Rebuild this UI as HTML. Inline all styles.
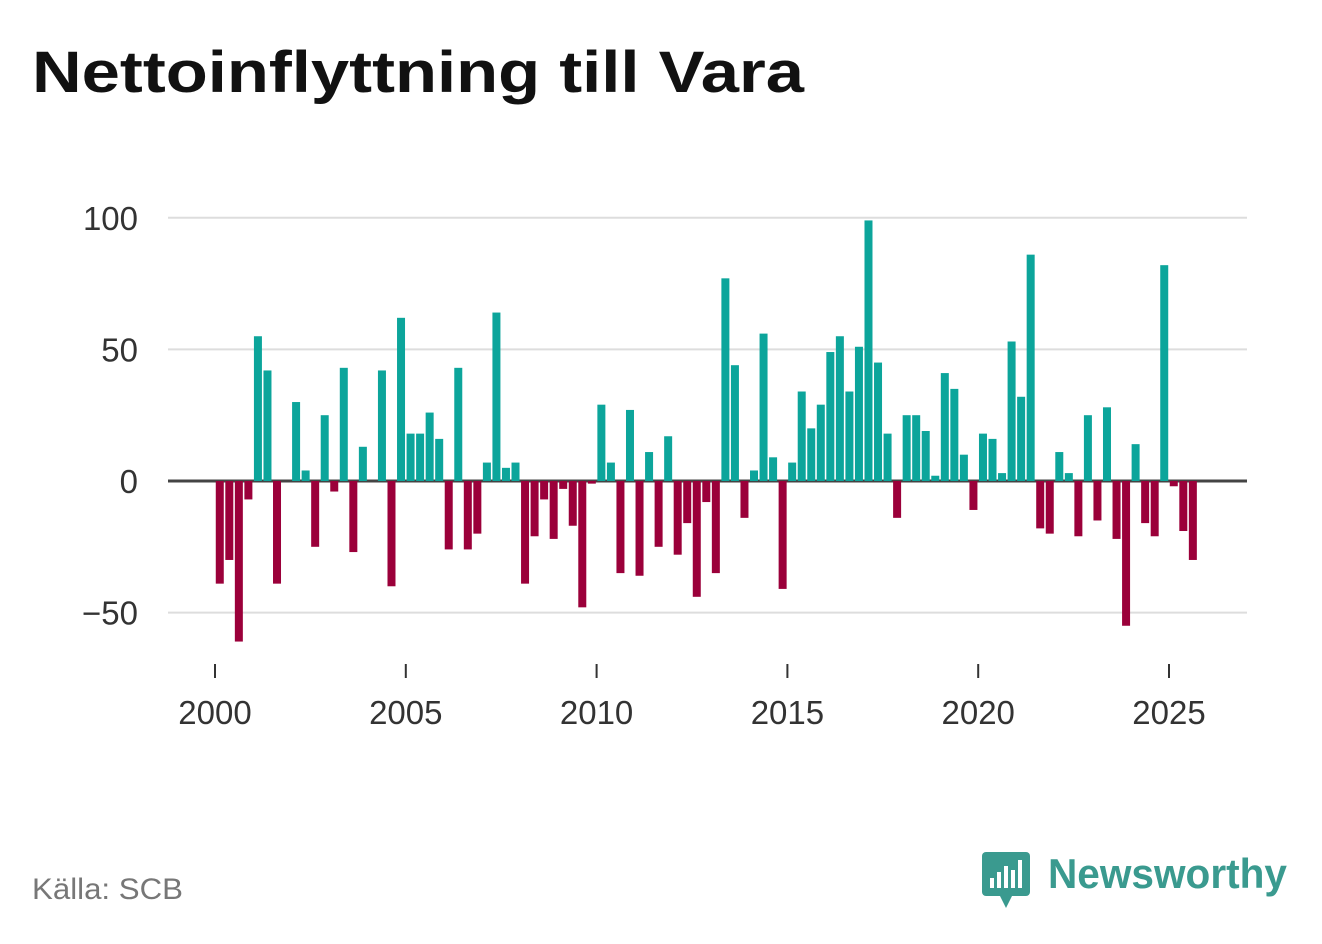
<!DOCTYPE html>
<html><head><meta charset="utf-8"><style>
body{margin:0;background:#fff;width:1322px;height:939px;overflow:hidden;font-family:"Liberation Sans",sans-serif}
</style></head><body>
<svg id="chart" width="1322" height="939">
<text x="32" y="92" font-size="58" font-weight="bold" fill="#111" textLength="772" lengthAdjust="spacingAndGlyphs">Nettoinflyttning till Vara</text>
<g id="grid"></g><g id="bars"></g><g id="xaxis"></g>
<text x="32" y="899" font-size="30" fill="#777" textLength="151" lengthAdjust="spacingAndGlyphs">Källa: SCB</text>
<g>
<rect x="982" y="852" width="48" height="44" rx="4" fill="#3a9a8f"/>
<polygon points="1000,896 1012,896 1006,908" fill="#3a9a8f"/>
<rect x="990" y="878" width="4" height="10" fill="#fff"/><rect x="997" y="872" width="4" height="16" fill="#fff"/><rect x="1004" y="866" width="4" height="22" fill="#fff"/><rect x="1011" y="870" width="4" height="18" fill="#fff"/><rect x="1018" y="860" width="4" height="28" fill="#fff"/>
<text x="1048" y="888" font-size="42" font-weight="bold" fill="#3a9a8f" textLength="239" lengthAdjust="spacingAndGlyphs">Newsworthy</text>
</g>
</svg>
<script>
const startYear=2000;
const values=[-39,-30,-61,-7,55,42,-39,0,30,4,-25,25,-4,43,-27,13,0,42,-40,62,18,18,26,16,-26,43,-26,-20,7,64,5,7,-39,-21,-7,-22,-3,-17,-48,-1,29,7,-35,27,-36,11,-25,17,-28,-16,-44,-8,-35,77,44,-14,4,56,9,-41,7,34,20,29,49,55,34,51,99,45,18,-14,25,25,19,2,41,35,10,-11,18,16,3,53,32,86,-18,-20,11,3,-21,25,-15,28,-22,-55,14,-16,-21,82,-2,-19,-30];
const yTicks=[100,50,0,-50];
const xTicks=[2000,2005,2010,2015,2020,2025];
const NS="http://www.w3.org/2000/svg";
const y=v=>481-v*2.632;
const x=t=>215+(t-startYear)*38.16;
function mk(tag,attrs,parent){const e=document.createElementNS(NS,tag);for(const k in attrs)e.setAttribute(k,attrs[k]);parent.appendChild(e);return e;}
const grid=document.getElementById('grid'),bars=document.getElementById('bars'),xa=document.getElementById('xaxis');
yTicks.forEach(v=>{
 const l=mk('line',{x1:168,x2:1247,y1:y(v),y2:y(v),stroke:v===0?'#444':'#ddd','stroke-width':v===0?3:2},grid);
 
 
 const t=mk('text',{x:138,y:y(v)+12,'font-size':33,fill:'#333','text-anchor':'end'},grid);
 t.textContent=v<0?'−'+Math.abs(v):String(v);
 
 
});
values.forEach((v,i)=>{
 const cx=x(startYear+(i+0.5)/4);
 const r=mk('rect',{x:cx-4,width:8,y:Math.min(y(v),y(0)),height:Math.abs(y(v)-y(0)),fill:v>=0?'#0ca59b':'#9b003a'},bars);
 
 
});
xTicks.forEach(t=>{
 const l=mk('line',{x1:x(t),x2:x(t),y1:664,y2:678,stroke:'#333','stroke-width':2},xa);
 
 
 const tx=mk('text',{x:x(t),y:724,'font-size':33,fill:'#333','text-anchor':'middle'},xa);
 tx.textContent=t;
 
 
});
</script>
</body></html>
